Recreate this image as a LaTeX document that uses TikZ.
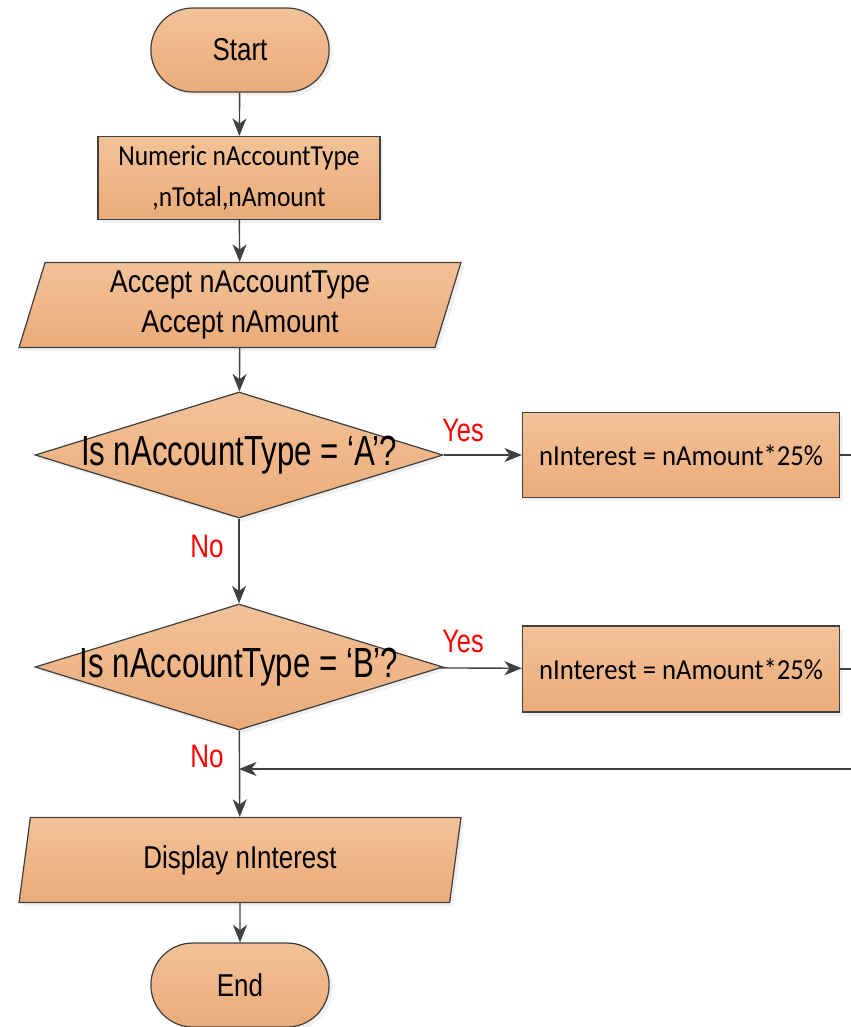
\documentclass[tikz,border=0pt]{standalone}
\usepackage{graphicx}
\usepackage{fontspec}
\setmainfont{Liberation Sans}
\newfontfamily\calib{Carlito}
\usetikzlibrary{shapes.geometric,shapes.misc,arrows.meta,shadows}
\definecolor{boxtop}{RGB}{242,194,152}
\definecolor{boxbot}{RGB}{235,171,121}
\definecolor{edge}{RGB}{64,64,64}
% narrow text, as in the picture
\newcommand{\nar}[2][0.82]{\scalebox{#1}[1]{#2}}

\begin{document}
\begin{tikzpicture}
        [x=0.02cm, y=-0.02cm, line width=0.8pt, draw=edge, >={Stealth[length=10pt,width=8pt,inset=3pt]},
         blk/.style={draw=edge, line width=0.7pt, top color=boxtop, bottom color=boxbot, align=center,
                     drop shadow={opacity=0.12, shadow xshift=2pt, shadow yshift=-2pt},
                     font=\fontsize{18}{22.5}\selectfont},
         term/.style={blk, rounded rectangle, minimum width=3.8cm, minimum height=1.68cm},
         proc/.style={blk, rectangle, inner sep=0pt, font=\calib\fontsize{16.5}{23}\selectfont},
         io/.style={blk, trapezium, trapezium left angle=69, trapezium right angle=111,
                    trapezium stretches body, minimum width=8.84cm, minimum height=1.7cm, inner sep=0pt},
         dec/.style={blk, diamond, minimum width=8.16cm, minimum height=2.52cm, inner sep=0pt},
         ans/.style={text=red, font=\fontsize{18.5}{20}\selectfont, inner sep=0pt}]
        \useasboundingbox (0,0) rectangle (851,1027);

        \node[term] (start) at (240,50)  {\nar{Start}};
        \node[proc, minimum width=5.64cm, minimum height=1.66cm]
              (decl) at (239,178) {\nar[0.88]{Numeric nAccountType}\\\nar[0.88]{,nTotal,nAmount}};
        \node[io] (inp) at (240,305) {\nar[0.85]{Accept nAccountType}\\\nar[0.85]{Accept nAmount}};
        \node[dec, label={[name=qat, font=\fontsize{24}{26}\selectfont]center:\nar[0.74]{Is nAccountType = ‘A’?}}]
              (qa) at (239,455) {};
        \node[dec, label={[name=qbt, font=\fontsize{24}{26}\selectfont]center:\nar[0.74]{Is nAccountType = ‘B’?}}]
              (qb) at (239,667) {};
        \node[proc, minimum width=6.34cm, minimum height=1.7cm]
              (ia) at (681,455) {\nar[0.92]{nInterest = nAmount*25\%}};
        \node[proc, minimum width=6.34cm, minimum height=1.72cm]
              (ib) at (681,669) {\nar[0.92]{nInterest = nAmount*25\%}};
        \node[io] (disp) at (240,860) {\nar{Display nInterest}};
        \node[term] (stop) at (240,985) {\nar{End}};

        \node[ans] (ya) at (463,430) {\nar[0.78]{Yes}};
        \node[ans] (yb) at (463,641) {\nar[0.78]{Yes}};
        \node[ans] (na) at (207,546) {\nar[0.8]{No}};
        \node[ans] (nb) at (207,756) {\nar[0.8]{No}};

        \coordinate (ea) at (851,455);
        \coordinate (eb) at (851,669);
        \coordinate (ret) at (851,769);

        \foreach \from/\to in {start/decl,decl/inp,inp/qa,qa/ia,qa/qb,qb/ib,qb/disp,disp/stop}
        \draw[->] (\from) -- (\to);
        \draw (ia) -- (ea);
        \draw (ib) -- (eb);
        \draw[->] (ret) -- (qb.south |- ret);
    \end{tikzpicture}
\end{document}
